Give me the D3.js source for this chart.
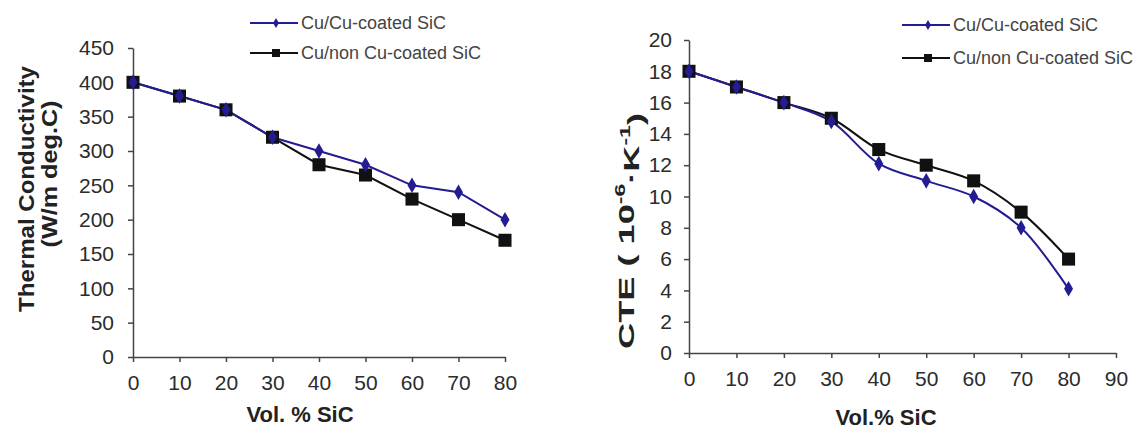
<!DOCTYPE html>
<html>
<head>
<meta charset="utf-8">
<script src="https://cdn.jsdelivr.net/npm/d3@7"></script>
<style>
  body { margin: 0; background: #fff; }
  text { font-family: Arial, "Liberation Sans", sans-serif; }
  .axis path, .axis line { stroke: #444; stroke-width: 1.5; }
  .axis text { fill: #2b2b2b; font-size: 21px; }
  .legend text { fill: #444; font-size: 18px; }
</style>
</head>
<body>
<div id="figure"></div>
<script>
// data
const seriesNames = ['Cu/Cu-coated SiC', 'Cu/non Cu-coated SiC'];
const volSiC = [0, 10, 20, 30, 40, 50, 60, 70, 80];

const tcCoated = [400, 380, 360, 320, 300, 280, 250, 240, 200];
const tcUncoated = [400, 380, 360, 320, 280, 265, 230, 200, 170];

const cteCoated = [18, 17, 16, 14.8, 12.1, 11, 10, 8, 4.1];
const cteUncoated = [18, 17, 16, 15, 13, 12, 11, 9, 6];

const tcTicks = [0, 50, 100, 150, 200, 250, 300, 350, 400, 450];
const cteTicks = [0, 2, 4, 6, 8, 10, 12, 14, 16, 18, 20];
const volTicksLeft = [0, 10, 20, 30, 40, 50, 60, 70, 80];
const volTicksRight = [0, 10, 20, 30, 40, 50, 60, 70, 80, 90];

const blue = '#231c92';
const black = '#111';

const svg = d3.select('#figure')
  .append('svg')
  .attr('width', 1138)
  .attr('height', 431);

function draw_panel(opt) {
  const x = d3.scaleLinear().domain(opt.xDomain).range(opt.xRange);
  const y = d3.scaleLinear().domain(opt.yDomain).range(opt.yRange);

  const g = svg.append('g');

  // axes
  g.append('g')
    .attr('class', 'axis')
    .attr('transform', `translate(0, ${opt.yRange[0]})`)
    .call(d3.axisBottom(x).tickValues(opt.xTicks).tickSize(5).tickSizeOuter(0).tickPadding(13));

  g.append('g')
    .attr('class', 'axis')
    .attr('transform', `translate(${opt.xRange[0]}, 0)`)
    .call(d3.axisLeft(y).tickValues(opt.yTicks).tickSize(5).tickSizeOuter(0).tickPadding(opt.yPad));

  // lines
  const series = [
    { name: seriesNames[0], values: opt.coated, color: blue, marker: 'diamond' },
    { name: seriesNames[1], values: opt.uncoated, color: black, marker: 'square' },
  ];

  const line = d3.line()
    .x((d, i) => x(volSiC[i]))
    .y((d) => y(d))
    .curve(opt.curve);

  // black first so blue sits on top where they overlap
  series.slice().reverse().forEach((s) => {
    g.append('path')
      .attr('d', line(s.values))
      .attr('fill', 'none')
      .attr('stroke', s.color)
      .attr('stroke-width', 2);
  });

  series.slice().reverse().forEach((s) => {
    const sym = s.marker === 'square'
      ? d3.symbol().type(d3.symbolSquare).size(170)
      : d3.symbol().type(d3.symbolDiamond).size(70);
    g.selectAll(null)
      .data(s.values)
      .enter()
      .append('path')
      .attr('d', sym)
      .attr('transform', (d, i) => `translate(${x(volSiC[i])}, ${y(d)})`)
      .attr('fill', s.color);
  });

  // legend
  const leg = g.append('g').attr('class', 'legend');
  series.forEach((s, i) => {
    const ly = opt.legend.y + i * opt.legend.step;
    const lx = opt.legend.x;
    leg.append('line')
      .attr('x1', lx).attr('x2', lx + 48)
      .attr('y1', ly).attr('y2', ly)
      .attr('stroke', s.color)
      .attr('stroke-width', 2);
    leg.append('path')
      .attr('d', s.marker === 'square'
        ? d3.symbol().type(d3.symbolSquare).size(64)
        : d3.symbol().type(d3.symbolDiamond).size(30))
      .attr('transform', `translate(${lx + 26}, ${ly})`)
      .attr('fill', s.color);
    leg.append('text')
      .attr('x', lx + 51)
      .attr('y', ly)
      .attr('dy', '0.35em')
      .text(s.name);
  });

  // x title
  g.append('text')
    .attr('x', opt.xTitle.x)
    .attr('y', opt.xTitle.y)
    .attr('text-anchor', 'middle')
    .attr('font-weight', 'bold')
    .attr('font-size', 22)
    .attr('fill', '#222')
    .text(opt.xTitle.text);

  return g;
}

// rotated y title, stretched along its length to the span seen in the picture
function y_title(g, cx, cy, span) {
  const t = g.append('text')
    .attr('text-anchor', 'middle')
    .attr('dy', '0.35em')
    .attr('font-weight', 'bold')
    .attr('font-size', 22)
    .attr('fill', '#222');
  return {
    t: t,
    fit: () => {
      const w = t.node().getComputedTextLength();
      t.attr('transform', `translate(${cx}, ${cy}) rotate(-90) scale(${span / w}, 1)`);
    },
  };
}

// Thermal conductivity panel
const left = draw_panel({
  xDomain: [0, 80], xRange: [133, 505],
  yDomain: [0, 450], yRange: [357, 48],
  xTicks: volTicksLeft, yTicks: tcTicks, yPad: 14,
  coated: tcCoated, uncoated: tcUncoated,
  curve: d3.curveLinear,
  legend: { x: 250, y: 23, step: 30 },
  xTitle: { x: 300, y: 422, text: 'Vol. % SiC' },
});

const tc1 = y_title(left, 26, 189, 246);
tc1.t.text('Thermal Conductivity');
tc1.fit();

const tc2 = y_title(left, 49, 174, 147);
tc2.t.text('(W/m deg.C)');
tc2.fit();

// CTE panel
const right = draw_panel({
  xDomain: [0, 90], xRange: [689, 1116],
  yDomain: [0, 20], yRange: [353, 40],
  xTicks: volTicksRight, yTicks: cteTicks, yPad: 12,
  coated: cteCoated, uncoated: cteUncoated,
  curve: d3.curveCatmullRom.alpha(0.5),
  legend: { x: 902, y: 25, step: 33 },
  xTitle: { x: 886, y: 425, text: 'Vol.% SiC' },
});

const cte = y_title(right, 626, 231, 236);
cte.t.append('tspan').text('CTE ( 10');
cte.t.append('tspan').attr('font-size', 14).attr('dy', '-0.6em').text('-6');
cte.t.append('tspan').attr('dy', '0.6em').text('\u00b7K');
cte.t.append('tspan').attr('font-size', 14).attr('dy', '-0.6em').text('-1');
cte.t.append('tspan').attr('dy', '0.6em').text(')');
cte.fit();
</script>
</body>
</html>
